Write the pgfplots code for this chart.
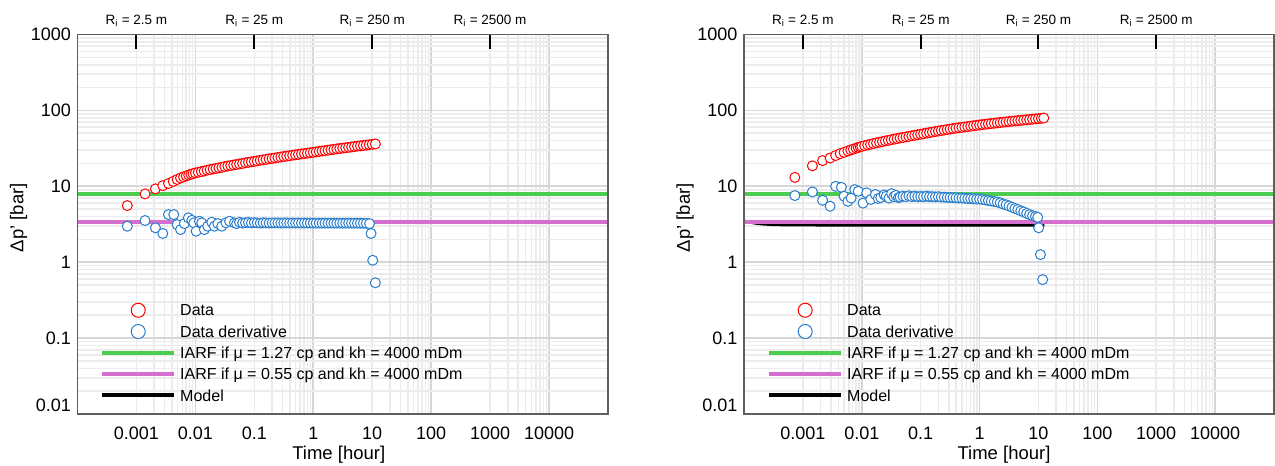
\documentclass[border=0pt]{standalone}
\usepackage{fontspec}
\setmainfont{Liberation Sans}
\usepackage{pgfplots}
\usepackage{pgfplotstable}
\pgfplotsset{compat=1.18}

\definecolor{dred}{RGB}{255,0,0}
\definecolor{dblue}{RGB}{40,125,205}
\definecolor{igreen}{RGB}{76,205,80}
\definecolor{ipurple}{RGB}{213,110,205}
\definecolor{gmaj}{RGB}{214,214,214}
\definecolor{gmin}{RGB}{236,236,236}
\definecolor{axframe}{RGB}{95,95,95}

\pgfplotsset{legend image code/.code={\draw[mark repeat=2,mark phase=2,#1] plot coordinates {(0pt,0pt) (36pt,0pt) (72pt,0pt)};}}

\pgfplotstableread{
t p
0.0007 5.57
0.0014 7.94
0.0021 9.25
0.0028 10.2
0.0035 10.9
0.0042 11.6
0.0049 12.3
0.0056 12.9
0.0063 13.3
0.0070 13.7
0.0077 14.1
0.0084 14.4
0.0091 14.7
0.0100 15.0
0.0112 15.3
0.0126 15.6
0.0141 15.9
0.0158 16.3
0.0178 16.6
0.0200 16.9
0.0224 17.2
0.0251 17.5
0.0282 17.8
0.0316 18.2
0.0355 18.5
0.0398 18.8
0.0447 19.1
0.0501 19.4
0.0562 19.7
0.0631 20.0
0.0708 20.4
0.0794 20.7
0.0891 21.0
0.100 21.3
0.112 21.6
0.126 22.0
0.141 22.3
0.158 22.6
0.178 23.0
0.200 23.3
0.224 23.6
0.251 24.0
0.282 24.3
0.316 24.7
0.355 25.0
0.398 25.3
0.447 25.7
0.501 26.0
0.562 26.3
0.631 26.7
0.708 27.0
0.794 27.3
0.891 27.7
1.00 28.0
1.12 28.4
1.26 28.8
1.41 29.2
1.58 29.5
1.78 29.9
2.00 30.3
2.24 30.7
2.51 31.1
2.82 31.5
3.16 31.9
3.55 32.2
3.98 32.6
4.47 33.0
5.01 33.4
5.62 33.8
6.31 34.2
7.08 34.5
7.94 34.9
8.91 35.3
10.0 35.7
11.3 36.1
}\redL

\pgfplotstableread{
t p
0.0007 2.98
0.0014 3.54
0.0021 2.84
0.0028 2.39
0.0035 4.24
0.0043 4.24
0.0049 3.13
0.0056 2.69
0.0065 3.23
0.0076 3.84
0.0087 3.57
0.0094 3.30
0.0103 2.56
0.0117 3.46
0.0128 3.30
0.0142 2.69
0.0162 2.98
0.0190 3.36
0.0210 2.98
0.0240 3.23
0.0280 2.98
0.0330 3.30
0.0380 3.46
0.0460 3.30
0.0501 3.22
0.0562 3.36
0.0631 3.28
0.0708 3.31
0.0794 3.35
0.0891 3.29
0.100 3.32
0.112 3.30
0.126 3.27
0.141 3.31
0.158 3.30
0.178 3.28
0.200 3.30
0.224 3.29
0.251 3.30
0.282 3.28
0.316 3.29
0.355 3.30
0.398 3.28
0.447 3.29
0.501 3.28
0.562 3.29
0.631 3.28
0.708 3.29
0.794 3.28
0.891 3.28
1.00 3.28
1.12 3.27
1.26 3.28
1.41 3.27
1.58 3.28
1.78 3.27
2.00 3.28
2.24 3.27
2.51 3.27
2.82 3.28
3.16 3.27
3.55 3.27
3.98 3.28
4.47 3.27
5.01 3.27
5.62 3.27
6.31 3.26
7.08 3.26
7.94 3.25
9.00 3.22
9.55 2.39
10.2 1.06
11.3 0.536
}\bluL

\pgfplotstableread{
t p
0.00073 13.1
0.00145 18.6
0.00216 21.8
0.0029 23.6
0.0036 25.4
0.0043 26.9
0.0050 28.0
0.0058 29.2
0.0065 30.1
0.0072 30.9
0.0080 31.8
0.0087 32.5
0.0094 33.1
0.0100 33.6
0.0112 34.3
0.0126 35.1
0.0141 35.8
0.0158 36.6
0.0178 37.3
0.0200 38.1
0.0224 38.8
0.0251 39.6
0.0282 40.3
0.0316 41.1
0.0355 41.8
0.0398 42.5
0.0447 43.3
0.0501 44.0
0.0562 44.8
0.0631 45.5
0.0708 46.3
0.0794 47.0
0.0891 47.8
0.100 48.5
0.112 49.3
0.126 50.2
0.141 51.0
0.158 51.8
0.178 52.7
0.200 53.5
0.224 54.3
0.251 55.1
0.282 56.0
0.316 56.8
0.355 57.6
0.398 58.3
0.447 59.1
0.501 59.8
0.562 60.6
0.631 61.3
0.708 62.1
0.794 62.8
0.891 63.6
1.00 64.3
1.12 65.0
1.26 65.7
1.41 66.4
1.58 67.1
1.78 67.8
2.00 68.5
2.24 69.2
2.51 69.9
2.82 70.6
3.16 71.3
3.55 72.0
3.98 72.6
4.47 73.3
5.01 73.9
5.62 74.6
6.31 75.3
7.08 75.9
7.94 76.6
8.91 77.2
10.0 77.9
11.2 78.7
12.3 79.4
}\redR

\pgfplotstableread{
t p
0.00073 7.55
0.00145 8.44
0.00216 6.55
0.0029 5.46
0.0036 10.0
0.0045 9.7
0.0050 7.4
0.0058 6.35
0.0066 7.0
0.0076 9.05
0.0087 8.6
0.0105 6.0
0.0121 8.2
0.0142 6.7
0.0170 7.8
0.0190 6.9
0.0210 7.1
0.0240 7.7
0.0260 7.4
0.0290 7.0
0.0320 8.0
0.0350 7.3
0.0380 7.6
0.0420 7.1
0.0447 7.2
0.0501 7.4
0.0562 7.3
0.0631 7.5
0.0708 7.3
0.0794 7.4
0.0891 7.3
0.100 7.35
0.112 7.3
0.126 7.4
0.141 7.3
0.158 7.3
0.178 7.25
0.200 7.3
0.224 7.2
0.251 7.2
0.282 7.15
0.316 7.1
0.355 7.1
0.398 7.05
0.447 7.0
0.501 7.0
0.562 6.95
0.631 6.9
0.708 6.9
0.794 6.85
0.891 6.8
1.00 6.8
1.12 6.7
1.26 6.6
1.41 6.5
1.58 6.4
1.78 6.3
2.00 6.2
2.24 6.05
2.51 5.85
2.82 5.7
3.16 5.5
3.55 5.3
3.98 5.1
4.47 4.95
5.01 4.75
5.62 4.6
6.31 4.4
7.08 4.25
7.94 4.1
8.91 4.0
9.70 3.9
10.1 2.84
10.8 1.26
11.8 0.59
}\bluR

\pgfplotstableread{
t p
0.0001 3.52
0.00012 3.38
0.00015 3.26
0.0002 3.17
0.0003 3.11
0.0005 3.08
0.001 3.07
0.01 3.06
0.1 3.06
1 3.05
12.6 3.05
}\modR

\begin{document}
\begin{tikzpicture}
\useasboundingbox (0pt,0pt) rectangle (1275pt,466pt);

% ===== major x grid (every second decade), drawn first =====
\begin{axis}[width=530.5pt, at={(77.5pt,52pt)}, anchor=south west,
    scale only axis, height=379.5pt,
    xmode=log, ymode=log,
    xmin=1e-4, xmax=1e5, ymin=0.01, ymax=1000,
    axis line style={draw=none},
    tick style={draw=none},
    xtick={0.01,1,100,10000}, xticklabels={}, ytick=\empty,
    xmajorgrids, major grid style={draw=gmaj, line width=1.6pt},
  ]
\end{axis}
\begin{axis}[width=530pt, at={(744pt,52pt)}, anchor=south west,
    scale only axis, height=379.5pt,
    xmode=log, ymode=log,
    xmin=1e-4, xmax=1e5, ymin=0.01, ymax=1000,
    axis line style={draw=none},
    tick style={draw=none},
    xtick={0.01,1,100,10000}, xticklabels={}, ytick=\empty,
    xmajorgrids, major grid style={draw=gmaj, line width=1.6pt},
  ]
\end{axis}

% ===== left =====
\begin{axis}[width=530.5pt, at={(77.5pt,52pt)}, anchor=south west,
    scale only axis, height=379.5pt,
    xmode=log, ymode=log,
    xmin=1e-4, xmax=1e5, ymin=0.01, ymax=1000,
    axis line style={draw=axframe, line width=1.3pt},
    tick style={draw=none},
    major tick length=0pt, minor tick length=0pt,
    xtick={0.001,0.01,0.1,1,10,100,1000,10000},
    xticklabels={0.001,0.01,0.1,1,10,100,1000,10000},
    minor xtick={0.001,0.002,0.003,0.004,0.005,0.006,0.007,0.008,0.009,
                 0.1,0.2,0.3,0.4,0.5,0.6,0.7,0.8,0.9,
                 10,20,30,40,50,60,70,80,90,
                 1000,2000,3000,4000,5000,6000,7000,8000,9000},
    ytick={0.01,0.1,1,10,100,1000},
    yticklabels={\smash{\raisebox{2.75pt}{0.01}},0.1,1,10,100,1000},
    minor ytick={0.02,0.03,0.04,0.05,0.06,0.07,0.08,0.09,
                 0.2,0.3,0.4,0.5,0.6,0.7,0.8,0.9,
                 2,3,4,5,6,7,8,9,
                 20,30,40,50,60,70,80,90,
                 200,300,400,500,600,700,800,900},
    xminorgrids, ymajorgrids, yminorgrids,
    major grid style={draw=gmaj, line width=1.6pt},
    minor grid style={draw=gmin, line width=1.6pt},
    tick label style={font=\fontsize{18}{21}\selectfont},
    xticklabel style={inner sep=0pt, anchor=north, yshift=-12.5pt},
    yticklabel style={inner sep=0pt, anchor=east, xshift=-6.5pt},
    xlabel={Time [hour]},
    ylabel={Δp’ [bar]},
    xlabel style={font=\fontsize{18.5}{22}\selectfont, at={(axis description cs:0.5,0)}, anchor=center, yshift=-41pt, xshift=-4pt},
    ylabel style={font=\fontsize{18.5}{22}\selectfont, xshift=6.5pt},
    legend cell align=left,
    legend style={draw=none, fill=none, at={(0.0425,0.302)}, anchor=north west,
      font=\fontsize{16}{19}\selectfont, inner sep=0pt, row sep=0pt,
      nodes={inner sep=0pt, text height=16.35pt, text depth=4.95pt},
      /tikz/every odd column/.append style={column sep=4pt}},
  ]
\addlegendimage{only marks, mark=*, mark size=7pt, mark options={fill=white, draw=dred, line width=1pt}}
\addlegendentry{Data}
\addlegendimage{only marks, mark=*, mark size=7pt, mark options={fill=white, draw=dblue, line width=1pt}}
\addlegendentry{Data derivative}
\addlegendimage{igreen, line width=4pt}
\addlegendentry{IARF if μ = 1.27 cp and kh = 4000 mDm}
\addlegendimage{ipurple, line width=4pt}
\addlegendentry{IARF if μ = 0.55 cp and kh = 4000 mDm}
\addlegendimage{black, line width=4pt}
\addlegendentry{Model}
\addplot[igreen, line width=3.5pt, forget plot] coordinates {(1e-4,7.95) (1e5,7.95)};
\addplot[ipurple, line width=3.5pt, forget plot] coordinates {(1e-4,3.37) (1e5,3.37)};
\addplot[only marks, mark=*, mark size=5pt, mark options={fill=white, draw=dred, line width=1pt}, forget plot] table[x=t,y=p] {\redL};
\addplot[only marks, mark=*, mark size=5pt, mark options={fill=white, draw=dblue, line width=1pt}, forget plot] table[x=t,y=p] {\bluL};
\end{axis}

% ===== right =====
\begin{axis}[width=530pt, at={(744pt,52pt)}, anchor=south west,
    scale only axis, height=379.5pt,
    xmode=log, ymode=log,
    xmin=1e-4, xmax=1e5, ymin=0.01, ymax=1000,
    axis line style={draw=axframe, line width=1.3pt},
    tick style={draw=none},
    major tick length=0pt, minor tick length=0pt,
    xtick={0.001,0.01,0.1,1,10,100,1000,10000},
    xticklabels={0.001,0.01,0.1,1,10,100,1000,10000},
    minor xtick={0.001,0.002,0.003,0.004,0.005,0.006,0.007,0.008,0.009,
                 0.1,0.2,0.3,0.4,0.5,0.6,0.7,0.8,0.9,
                 10,20,30,40,50,60,70,80,90,
                 1000,2000,3000,4000,5000,6000,7000,8000,9000},
    ytick={0.01,0.1,1,10,100,1000},
    yticklabels={\smash{\raisebox{2.75pt}{0.01}},0.1,1,10,100,1000},
    minor ytick={0.02,0.03,0.04,0.05,0.06,0.07,0.08,0.09,
                 0.2,0.3,0.4,0.5,0.6,0.7,0.8,0.9,
                 2,3,4,5,6,7,8,9,
                 20,30,40,50,60,70,80,90,
                 200,300,400,500,600,700,800,900},
    xminorgrids, ymajorgrids, yminorgrids,
    major grid style={draw=gmaj, line width=1.6pt},
    minor grid style={draw=gmin, line width=1.6pt},
    tick label style={font=\fontsize{18}{21}\selectfont},
    xticklabel style={inner sep=0pt, anchor=north, yshift=-12.5pt},
    yticklabel style={inner sep=0pt, anchor=east, xshift=-6.5pt},
    xlabel={Time [hour]},
    ylabel={Δp’ [bar]},
    xlabel style={font=\fontsize{18.5}{22}\selectfont, at={(axis description cs:0.5,0)}, anchor=center, yshift=-41pt, xshift=-5pt},
    ylabel style={font=\fontsize{18.5}{22}\selectfont, xshift=6.5pt},
    legend cell align=left,
    legend style={draw=none, fill=none, at={(0.0434,0.302)}, anchor=north west,
      font=\fontsize{16}{19}\selectfont, inner sep=0pt, row sep=0pt,
      nodes={inner sep=0pt, text height=16.35pt, text depth=4.95pt},
      /tikz/every odd column/.append style={column sep=4pt}},
  ]
\addlegendimage{only marks, mark=*, mark size=7pt, mark options={fill=white, draw=dred, line width=1pt}}
\addlegendentry{Data}
\addlegendimage{only marks, mark=*, mark size=7pt, mark options={fill=white, draw=dblue, line width=1pt}}
\addlegendentry{Data derivative}
\addlegendimage{igreen, line width=4pt}
\addlegendentry{IARF if μ = 1.27 cp and kh = 4000 mDm}
\addlegendimage{ipurple, line width=4pt}
\addlegendentry{IARF if μ = 0.55 cp and kh = 4000 mDm}
\addlegendimage{black, line width=4pt}
\addlegendentry{Model}
\addplot[igreen, line width=3.5pt, forget plot] coordinates {(1e-4,7.95) (1e5,7.95)};
\addplot[black, line width=2.5pt, forget plot] table[x=t,y=p] {\modR};
\addplot[ipurple, line width=3.5pt, forget plot] coordinates {(1e-4,3.37) (1e5,3.37)};
\addplot[only marks, mark=*, mark size=5pt, mark options={fill=white, draw=dred, line width=1pt}, forget plot] table[x=t,y=p] {\redR};
\addplot[only marks, mark=*, mark size=5pt, mark options={fill=white, draw=dblue, line width=1pt}, forget plot] table[x=t,y=p] {\bluR};
\end{axis}

% ===== top R_i ticks =====
\begin{axis}[width=530.5pt, at={(77.5pt,52pt)}, anchor=south west,
    scale only axis, height=379.5pt,
    xmode=log, ymode=log,
    xmin=1e-4, xmax=1e5, ymin=0.01, ymax=1000,
    axis line style={draw=axframe, line width=1.3pt},
    ytick=\empty, minor xtick={},
    xtick={0.001,0.1,10,1000},
    xticklabels={R\textsubscript{i} = 2.5 m, R\textsubscript{i} = 25 m, R\textsubscript{i} = 250 m, R\textsubscript{i} = 2500 m},
    xtick pos=right, xticklabel pos=right,
    xtick align=inside, major tick length=15pt,
    tick style={draw=black, line width=2pt},
    xticklabel style={font=\fontsize{13.5}{16}\selectfont, anchor=center, inner sep=0pt, yshift=14pt},
  ]
\end{axis}
\begin{axis}[width=530pt, at={(744pt,52pt)}, anchor=south west,
    scale only axis, height=379.5pt,
    xmode=log, ymode=log,
    xmin=1e-4, xmax=1e5, ymin=0.01, ymax=1000,
    axis line style={draw=axframe, line width=1.3pt},
    ytick=\empty, minor xtick={},
    xtick={0.001,0.1,10,1000},
    xticklabels={R\textsubscript{i} = 2.5 m, R\textsubscript{i} = 25 m, R\textsubscript{i} = 250 m, R\textsubscript{i} = 2500 m},
    xtick pos=right, xticklabel pos=right,
    xtick align=inside, major tick length=15pt,
    tick style={draw=black, line width=2pt},
    xticklabel style={font=\fontsize{13.5}{16}\selectfont, anchor=center, inner sep=0pt, yshift=14pt},
  ]
\end{axis}
\end{tikzpicture}
\end{document}
